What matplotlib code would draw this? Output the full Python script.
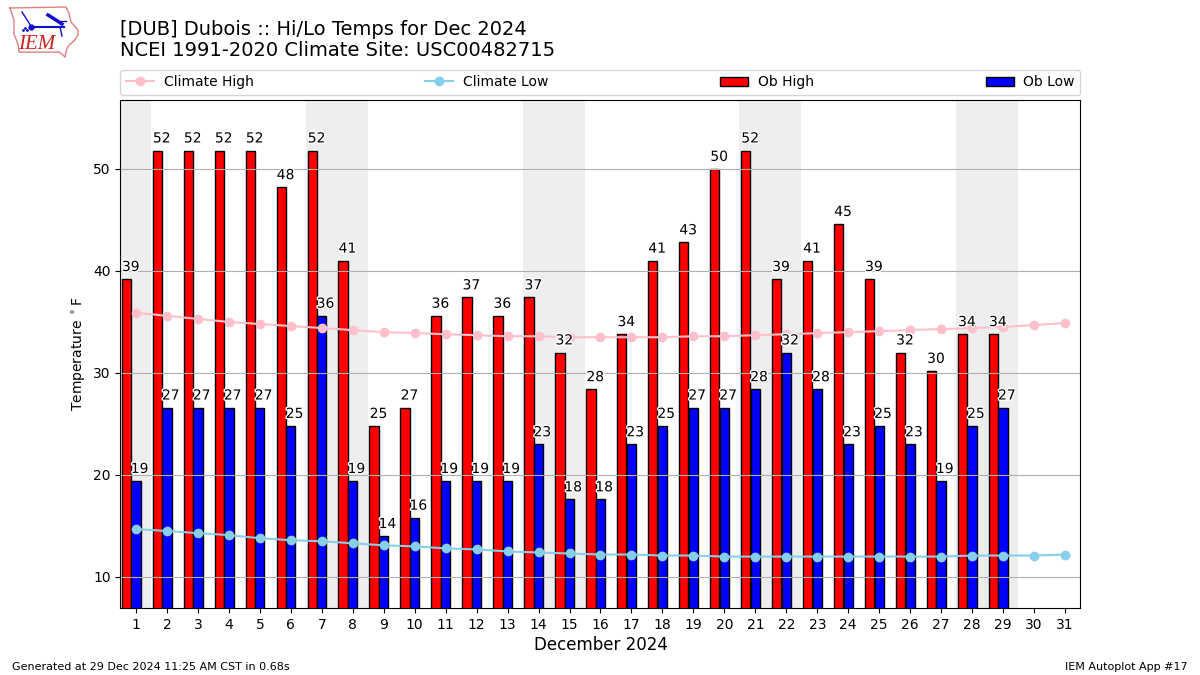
import matplotlib
matplotlib.use('Agg')
import matplotlib.pyplot as plt
import matplotlib.patheffects as pe
import numpy as np

days = list(range(1, 32))
ob_high = [39.2, 51.8, 51.8, 51.8, 51.8, 48.2, 51.8, 41.0, 24.8, 26.6, 35.6, 37.4, 35.6, 37.4, 32.0,
           28.4, 33.8, 41.0, 42.8, 50.0, 51.8, 39.2, 41.0, 44.6, 39.2, 32.0, 30.2, 33.8, 33.8]
ob_low = [19.4, 26.6, 26.6, 26.6, 26.6, 24.8, 35.6, 19.4, 14.0, 15.8, 19.4, 19.4, 19.4, 23.0, 17.6,
          17.6, 23.0, 24.8, 26.6, 26.6, 28.4, 32.0, 28.4, 23.0, 24.8, 23.0, 19.4, 24.8, 26.6]
clim_high = [35.9, 35.6, 35.3, 35.0, 34.8, 34.6, 34.4, 34.2, 34.0, 33.9, 33.8, 33.7, 33.6, 33.6, 33.5, 33.5,
             33.5, 33.5, 33.6, 33.6, 33.7, 33.8, 33.9, 34.0, 34.1, 34.2, 34.3, 34.4, 34.5, 34.7, 34.9]
clim_low = [14.7, 14.5, 14.3, 14.1, 13.8, 13.6, 13.5, 13.3, 13.1, 13.0, 12.8, 12.7, 12.5, 12.4, 12.3, 12.2,
            12.2, 12.1, 12.1, 12.0, 12.0, 12.0, 12.0, 12.0, 12.0, 12.0, 12.0, 12.1, 12.1, 12.1, 12.2]
weekends = [(0.5, 1.48), (6.48, 8.48), (13.5, 15.5), (20.46, 22.46), (27.48, 29.48)]

fig = plt.figure(figsize=(12, 6.75), dpi=100)
ax = fig.add_axes([0.1004, 0.0993, 0.8, 0.7526])

for start, end in weekends:
    ax.axvspan(start, end, color='#eeeeee', lw=0, zorder=0.5)

obs_days = np.array(days[:len(ob_high)])
ax.bar(obs_days - 0.31, ob_high, width=0.3, color='r', edgecolor='k', label='Ob High')
ax.bar(obs_days, ob_low, width=0.3, color='b', edgecolor='k', label='Ob Low')
ax.plot(days, clim_high, color='pink', marker='o', label='Climate High')
ax.plot(days, clim_low, color='skyblue', marker='o', label='Climate Low')

halo = [pe.withStroke(linewidth=2, foreground='white')]
for d, hi, lo in zip(obs_days, ob_high, ob_low):
    ax.text(d - 0.17, hi + 0.5, f'{hi:.0f}', ha='center', va='bottom', fontsize=10, path_effects=halo, zorder=5)
    ax.text(d + 0.12, lo + 0.5, f'{lo:.0f}', ha='center', va='bottom', fontsize=10, path_effects=halo, zorder=5)

ax.set_xlim(0.5, 31.5)
ax.set_ylim(6.96, 56.76)
ax.set_xticks(days)
ax.set_yticks([10, 20, 30, 40, 50])
ax.grid(axis='y')
ax.set_xlabel('December 2024', fontsize=12, labelpad=3.3)
ax.set_ylabel(r'Temperature $^\circ$F')

handles, labels = ax.get_legend_handles_labels()
order = [labels.index(n) for n in ('Climate High', 'Climate Low', 'Ob High', 'Ob Low')]
ax.legend([handles[i] for i in order], [labels[i] for i in order], ncol=4, mode='expand', loc='lower left',
          bbox_to_anchor=(0, 1.01, 1, 0.05), borderaxespad=0, handletextpad=0.7)

fig.text(0.1, 0.911, '[DUB] Dubois :: Hi/Lo Temps for Dec 2024\nNCEI 1991-2020 Climate Site: USC00482715',
         fontsize=14, va='bottom', ha='left', linespacing=1.15)
fig.text(0.01, 0.0075, 'Generated at 29 Dec 2024 11:25 AM CST in 0.68s', fontsize=8)
fig.text(0.99, 0.0075, 'IEM Autoplot App #17', fontsize=8, ha='right')

# logo, rough copy
logo = fig.add_axes([0, 0.905, 0.08, 0.095])
logo.set_xlim(0, 96)
logo.set_ylim(64, 0)
logo.axis('off')
iowa_x = [10, 66, 69, 71, 78, 78, 74, 70, 67, 65, 62, 59, 19, 18, 14, 14, 10]
iowa_y = [8, 7, 13, 22, 30, 35, 41, 44, 48, 57, 54, 52, 52, 44, 34, 20, 8]
logo.plot(iowa_x, iowa_y, color='#e08080', lw=1)
logo.plot([31, 64], [27, 27], color='#1010cc', lw=1.5)
logo.plot([31], [27], 'o', color='#1010cc', ms=3.5)
logo.plot([22, 31], [12, 26], color='#1010cc', lw=1)
logo.plot([48, 56, 62], [15, 20, 24], color='#1010cc', lw=2.5)
logo.plot([58, 66], [21, 21], color='#1010cc', lw=1)
logo.plot([60, 62], [27, 36], color='#1010cc', lw=1)
logo.plot([23, 25, 27], [30, 28, 30], '.', color='#1010cc', ms=2)
logo.text(37, 44, 'IEM', color='#d02020', family='Liberation Serif', style='italic', fontsize=15,
          ha='center', va='center')

fig.savefig('out.png', dpi=100)
